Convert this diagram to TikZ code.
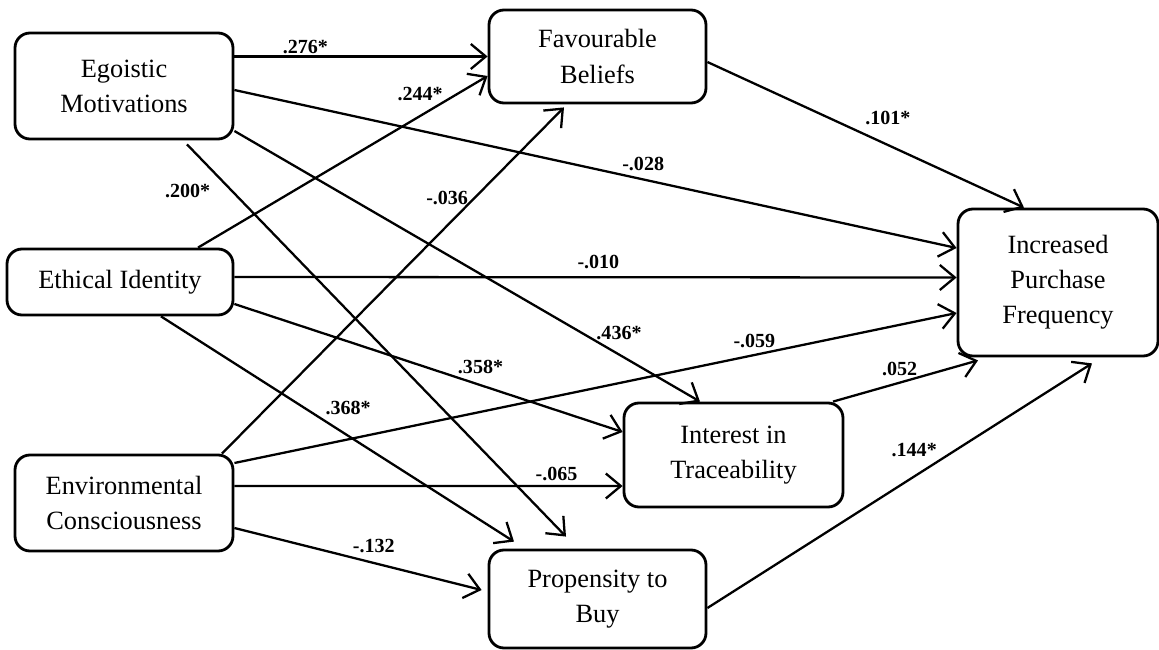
\documentclass[tikz,border=0pt]{standalone}
\usepackage{fontspec}
\setmainfont{Liberation Serif}
\usetikzlibrary{arrows.meta}

\begin{document}
\begin{tikzpicture}[
	factor/.style={draw, line width=1.6pt, rounded corners=0.3cm, align=center, inner sep=0pt, font=\fontsize{15pt}{20pt}\selectfont},
	effect/.style={line width=1.3pt, -{Straight Barb[length=0.3cm, width=0.5cm]}},
	coef/.style={inner sep=1pt, font=\fontsize{11.4pt}{13pt}\selectfont\bfseries}
]

	\useasboundingbox (0,0) rectangle (23.18,12.98);

	\node[factor, minimum width=4.36cm, minimum height=2.12cm] (Ego) at (2.48,11.26) {Egoistic\\Motivations};
	\node[factor, minimum width=4.34cm, minimum height=1.86cm] (Fav) at (11.95,11.85) {Favourable\\Beliefs};
	\node[factor, minimum width=4.52cm, minimum height=1.32cm] (Eth) at (2.40,7.34) {Ethical Identity};
	\node[factor, minimum width=4.36cm, minimum height=1.92cm] (Env) at (2.48,2.92) {Environmental\\Consciousness};
	\node[factor, minimum width=4.38cm, minimum height=2.08cm] (Int) at (14.67,3.88) {Interest in\\Traceability};
	\node[factor, minimum width=4.34cm, minimum height=1.96cm] (Prop) at (11.95,1.00) {Propensity to\\Buy};
	\node[factor, minimum width=4.00cm, minimum height=2.94cm] (Freq) at (21.16,7.33) {Increased\\Purchase\\Frequency};

	% egoistic motivations
	\draw[effect] (Ego.east |- Fav.west) -- node[coef, pos=0.28, above] (c1) {.276*} (Fav.west);
	\draw[effect] ([yshift=-0.08cm]Ego.east) -- node[coef, pos=0.566, above=3pt] (c2) {-.028} ([yshift=0.69cm]Freq.west);
	\draw[effect] ([xshift=1.26cm, yshift=-0.08cm]Ego.south) -- node[coef, pos=0.12, left=11pt] (c3) {.200*} ([xshift=-0.63cm, yshift=0.24cm]Prop.north);
	\draw[effect] ([yshift=-0.9cm]Ego.east) -- node[coef, pos=0.745, right=7pt] (c4) {.436*} ([xshift=-0.67cm]Int.north);

	% ethical identity
	\draw[effect] ([xshift=1.56cm]Eth.north) -- node[coef, pos=0.767, above=7pt] (c5) {.244*} ([yshift=-0.39cm]Fav.west);
	\draw[effect] ([yshift=0.1cm]Eth.east) -- node[coef, pos=0.504, above=3pt] (c6) {-.010} ([yshift=0.1cm]Freq.west);
	\draw[effect] ([yshift=-0.44cm]Eth.east) -- node[coef, pos=0.634, above=5pt] (c7) {.358*} ([yshift=0.46cm]Int.west);
	\draw[effect] ([xshift=0.82cm]Eth.south) -- node[coef, pos=0.408, right=10pt] (c8) {.368*} ([xshift=-1.67cm, yshift=0.14cm]Prop.north);

	% environmental consciousness
	\draw[effect] ([xshift=1.96cm]Env.north) -- node[coef, pos=0.738, left=2pt] (c9) {-.036} ([xshift=-0.67cm, yshift=-0.06cm]Fav.south);
	\draw[effect] ([yshift=0.8cm]Env.east) -- node[coef, pos=0.72, above=2.5pt] (c10) {-.059} ([yshift=-0.61cm]Freq.west);
	\draw[effect] ([yshift=0.34cm]Env.east) -- node[coef, pos=0.83, above=1.5pt] (c11) {-.065} ([yshift=-0.62cm]Int.west);
	\draw[effect] ([yshift=-0.5cm]Env.east) -- node[coef, pos=0.564, above=4pt] (c12) {-.132} ([xshift=-0.12cm, yshift=0.18cm]Prop.west);

	% mediators
	\draw[effect] ([yshift=-0.11cm]Fav.east) -- node[coef, pos=0.57, above=10pt] (c13) {.101*} ([xshift=-0.68cm]Freq.north);
	\draw[effect] ([xshift=1.99cm]Int.north) -- node[coef, pos=0.46, above=2pt] (c14) {.052} ([xshift=-1.6cm, yshift=-0.06cm]Freq.south);
	\draw[effect] ([yshift=-0.18cm]Prop.east) -- node[coef, pos=0.645, left=9pt] (c15) {.144*} ([xshift=0.68cm, yshift=-0.12cm]Freq.south);

\end{tikzpicture}
\end{document}
